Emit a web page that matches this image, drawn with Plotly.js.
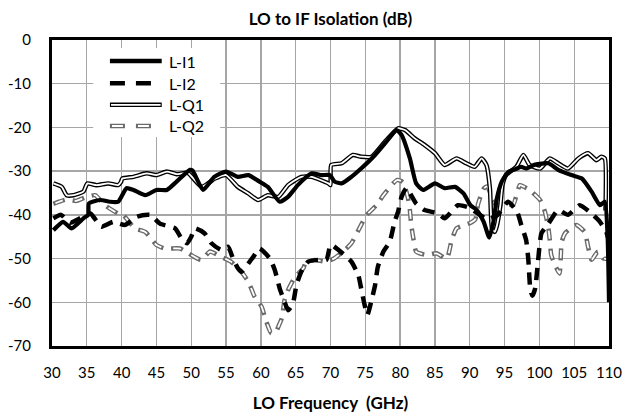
<!DOCTYPE html>
<html>
<head>
<meta charset="utf-8">
<script src="https://cdn.plot.ly/plotly-3.0.1.min.js"></script>
<style>html,body{margin:0;padding:0;background:#fff;}#chart{width:627px;height:420px;}</style>
</head>
<body>
<div id="chart"></div>
<script>
// ---- data ----
var seriesNames = ["L-I1", "L-I2", "L-Q1", "L-Q2"];

var freqI1 = [30.2,31.6,32.8,34.5,35.2,35.3,36.9,38.3,39.5,40.7,41.7,43.4,45.0,46.5,47.9,49.8,50.2,51.7,53.3,55.0,56.7,58.2,59.8,61.0,62.7,63.9,65.3,67.3,68.7,69.9,70.6,71.6,73.0,74.4,76.4,78.0,79.5,80.2,81.4,82.3,83.3,85.0,86.4,87.9,89.1,90.1,91.0,92.0,92.8,93.4,93.9,94.6,95.6,96.8,97.4,98.1,99.4,101.3,102.7,104.6,106.1,107.5,108.7,109.4,109.8,110.0];
var valI1  = [-43.5,-41.6,-43.1,-40.8,-40.0,-37.4,-36.6,-37.0,-37.0,-33.9,-34.3,-35.5,-34.3,-34.3,-32.4,-29.7,-29.9,-34.3,-31.3,-30.1,-31.3,-30.9,-32.4,-33.6,-37.0,-35.9,-33.2,-30.5,-30.9,-30.9,-32.4,-32.8,-31.3,-29.4,-26.3,-23.3,-20.6,-21.7,-27.1,-32.8,-34.3,-32.8,-33.9,-33.6,-35.1,-37.8,-38.9,-41.6,-45.2,-41.6,-36.2,-32.4,-30.1,-29.4,-29.0,-29.4,-28.5,-28.2,-29.7,-30.9,-31.7,-34.7,-37.8,-37.0,-45.0,-60.0];

var freqI2 = [30.2,31.3,32.6,34.0,35.5,37.1,38.8,40.5,42.2,44.1,45.5,47.7,48.6,49.4,50.0,50.5,51.9,52.9,54.3,55.3,56.0,56.7,57.2,58.9,59.8,61.3,62.0,62.7,63.4,63.9,64.6,65.1,65.8,66.8,68.2,69.4,69.9,70.1,72.3,73.0,74.0,74.4,74.9,75.3,75.9,76.4,76.8,77.6,78.5,79.2,79.7,80.2,80.9,82.3,83.5,85.5,86.4,88.3,89.8,91.0,92.5,94.0,95.5,96.8,97.4,98.1,98.4,98.7,99.0,99.4,99.8,100.3,101.3,102.7,104.1,105.8,107.5,108.7,109.6,110.0];
var valI2  = [-40.8,-40.0,-41.8,-40.8,-39.7,-42.7,-41.6,-42.3,-40.4,-40.0,-42.0,-43.1,-45.4,-46.5,-45.0,-43.1,-44.2,-46.5,-48.0,-47.3,-50.0,-52.2,-53.0,-49.6,-47.7,-50.0,-52.6,-56.8,-59.9,-61.8,-60.3,-56.1,-53.0,-50.7,-50.3,-50.3,-47.3,-46.8,-49.6,-50.7,-53.8,-56.8,-60.6,-62.9,-59.5,-56.1,-51.9,-48.4,-46.2,-41.6,-39.3,-35.9,-33.9,-37.4,-38.9,-39.7,-40.8,-37.8,-38.3,-39.5,-41.0,-40.0,-37.0,-39.3,-42.3,-45.8,-50.0,-57.0,-58.5,-56.8,-50.7,-44.2,-42.0,-38.9,-40.0,-37.8,-39.7,-41.6,-43.9,-46.0];

var freqQ1 = [30.2,31.4,32.1,33.1,34.5,34.9,35.1,36.4,38.1,39.5,39.9,40.1,41.7,43.6,45.0,46.5,47.9,49.5,51.5,53.4,55.0,56.7,58.2,59.6,61.0,62.5,63.9,65.8,67.3,69.7,70.0,70.1,71.6,73.2,74.4,75.9,77.8,79.7,80.7,82.1,83.5,85.0,86.4,88.1,89.5,90.7,91.7,92.4,92.9,93.2,93.6,93.9,94.4,94.7,95.2,96.7,97.7,98.6,100.1,101.5,102.7,104.1,105.6,107.0,108.2,108.9,109.4,109.5];
var valQ1  = [-32.8,-33.6,-35.5,-35.5,-34.7,-33.3,-32.8,-33.2,-32.8,-33.2,-32.5,-31.7,-31.3,-30.5,-30.9,-30.1,-30.7,-30.4,-33.6,-31.7,-30.9,-33.6,-35.1,-36.6,-35.5,-35.9,-33.2,-31.3,-31.3,-32.8,-33.2,-28.6,-28.2,-26.3,-26.7,-26.7,-23.3,-20.2,-20.6,-22.5,-24.0,-25.9,-28.6,-27.1,-28.2,-29.0,-27.1,-28.6,-34.0,-43.1,-43.9,-42.5,-37.8,-33.2,-30.9,-29.0,-26.3,-28.6,-29.4,-27.1,-28.2,-29.4,-27.1,-25.9,-27.5,-26.7,-27.1,-39.0];

var freqQ2 = [30.2,31.0,32.0,33.5,34.8,36.2,37.6,39.5,40.2,41.9,43.4,45.0,46.2,48.4,49.6,51.4,52.7,54.3,55.7,57.2,58.2,59.1,60.1,60.8,61.5,62.1,62.5,63.0,63.4,63.9,64.9,66.1,66.5,67.7,69.4,70.5,71.8,73.0,74.4,75.2,76.6,77.6,79.0,79.6,80.4,81.1,81.4,81.6,81.9,82.3,83.8,85.2,86.7,87.4,88.1,89.3,90.0,90.8,91.2,92.0,92.5,93.2,93.8,95.0,96.2,97.2,97.7,98.6,100.1,100.8,101.3,101.5,101.7,102.4,102.9,103.2,103.7,105.3,106.5,107.0,107.5,108.4,109.2,110.0];
var valQ2  = [-37.5,-37.0,-36.5,-36.8,-36.0,-35.5,-37.8,-39.7,-40.0,-43.1,-43.9,-46.9,-47.7,-47.7,-48.8,-50.3,-48.4,-49.6,-50.7,-53.0,-55.3,-58.7,-61.0,-64.5,-67.1,-67.0,-65.6,-63.7,-59.5,-57.2,-54.2,-52.2,-50.7,-50.3,-50.7,-50.0,-48.4,-46.5,-42.3,-40.0,-37.8,-35.5,-32.8,-32.0,-32.5,-35.9,-38.9,-42.3,-45.4,-48.4,-49.2,-48.8,-50.0,-45.8,-43.1,-42.3,-41.9,-41.0,-37.5,-34.0,-33.5,-36.0,-37.8,-37.4,-37.8,-33.2,-33.5,-34.3,-36.6,-39.3,-43.1,-45.8,-49.2,-52.0,-53.4,-46.2,-44.2,-42.3,-43.9,-47.3,-50.3,-48.4,-50.0,-50.0];

var xTickVals = [30,35,40,45,50,55,60,65,70,75,80,85,90,95,100,105,110];
var xTickText = ["30","35","40","45","50","55","60","65","70","75","80","85","90","95","100","105","110"];
var yTickVals = [0,-10,-20,-30,-40,-50,-60,-70];
var yTickText = ["0","-10","-20","-30","-40","-50","-60","-70"];

var titleText = "LO to IF Isolation (dB)";
var xTitleText = "LO Frequency \u00a0(GHz)";

// ---- styles ----
var FONT = "Lato, 'Noto Sans', sans-serif";
var SM = 0.5;
function tr(x, y, color, width, dash, name) {
  return {x: x, y: y, type: "scatter", mode: "lines", name: name, showlegend: false, hoverinfo: "skip",
          line: {color: color, width: width, dash: dash, shape: "spline", smoothing: SM}};
}
var traces = [
  tr(freqQ2, valQ2, "#6a6a6a", 4.5, "12px,8px", seriesNames[3]),
  tr(freqQ2, valQ2, "#ffffff", 1.8, "0px,2px,8px,10px", seriesNames[3] + " core"),
  tr(freqQ1, valQ1, "#000000", 4.5, "solid", seriesNames[2]),
  tr(freqQ1, valQ1, "#ffffff", 1.8, "solid", seriesNames[2] + " core"),
  tr(freqI2, valI2, "#000000", 4.5, "12px,8px", seriesNames[1]),
  tr(freqI1, valI1, "#000000", 4.2, "solid", seriesNames[0])
];

// legend drawn as layout decoration (paper coordinates)
var legX0 = 0.104, legX1 = 0.197, legTextX = 0.206;
var legY = [0.931, 0.859, 0.788, 0.719];
var shapes = [
  {type: "rect", xref: "paper", yref: "paper", x0: 0.074, x1: 0.302, y0: 0.683, y1: 0.974,
   fillcolor: "#ffffff", line: {width: 0}, layer: "above"},
  {type: "line", xref: "paper", yref: "paper", x0: legX0, x1: legX1, y0: legY[0], y1: legY[0], line: {color: "#000", width: 4.5}},
  {type: "line", xref: "paper", yref: "paper", x0: legX0, x1: legX1, y0: legY[1], y1: legY[1], line: {color: "#000", width: 4.5, dash: "15px,11px"}},
  {type: "line", xref: "paper", yref: "paper", x0: legX0, x1: legX1, y0: legY[2], y1: legY[2], line: {color: "#000", width: 4.5}},
  {type: "line", xref: "paper", yref: "paper", x0: legX0 + 0.002, x1: legX1 - 0.002, y0: legY[2], y1: legY[2], line: {color: "#fff", width: 1.8}},
  {type: "line", xref: "paper", yref: "paper", x0: legX0, x1: legX1, y0: legY[3], y1: legY[3], line: {color: "#6a6a6a", width: 4.5, dash: "15px,11px"}},
  {type: "line", xref: "paper", yref: "paper", x0: legX0, x1: legX1, y0: legY[3], y1: legY[3], line: {color: "#fff", width: 1.8, dash: "0px,2px,11px,13px"}}
];
var annotations = seriesNames.map(function (n, i) {
  return {text: n, xref: "paper", yref: "paper", x: legTextX, y: legY[i], xanchor: "left", yanchor: "middle",
          showarrow: false, font: {family: FONT, size: 16, color: "#000"}};
});

var axisCommon = {
  showgrid: true, gridcolor: "#a6a6a6", gridwidth: 1.3,
  showline: true, linecolor: "#000", linewidth: 3, mirror: true,
  zeroline: false, ticks: "", tickmode: "array",
  tickfont: {family: FONT, size: 15, color: "#000"}
};

var layout = {
  width: 627, height: 420,
  margin: {l: 52, r: 18, t: 40, b: 74},
  paper_bgcolor: "#fff", plot_bgcolor: "#fff",
  showlegend: false,
  title: {text: titleText, x: 0.5, xref: "paper", xanchor: "center", y: 0.955, yref: "container", yanchor: "middle",
          font: {family: FONT, size: 17, color: "#000", weight: "bold"}},
  xaxis: Object.assign({}, axisCommon, {range: [30, 110], tickvals: xTickVals, ticktext: xTickText,
          ticklabelstandoff: 11,
          title: {text: xTitleText, standoff: 18, font: {family: FONT, size: 17, color: "#000", weight: "bold"}}}),
  yaxis: Object.assign({}, axisCommon, {range: [-70, 0], tickvals: yTickVals, ticktext: yTickText,
          ticklabelstandoff: 15}),
  shapes: shapes,
  annotations: annotations
};

Plotly.newPlot("chart", traces, layout, {staticPlot: true, displayModeBar: false});
</script>
</body>
</html>
